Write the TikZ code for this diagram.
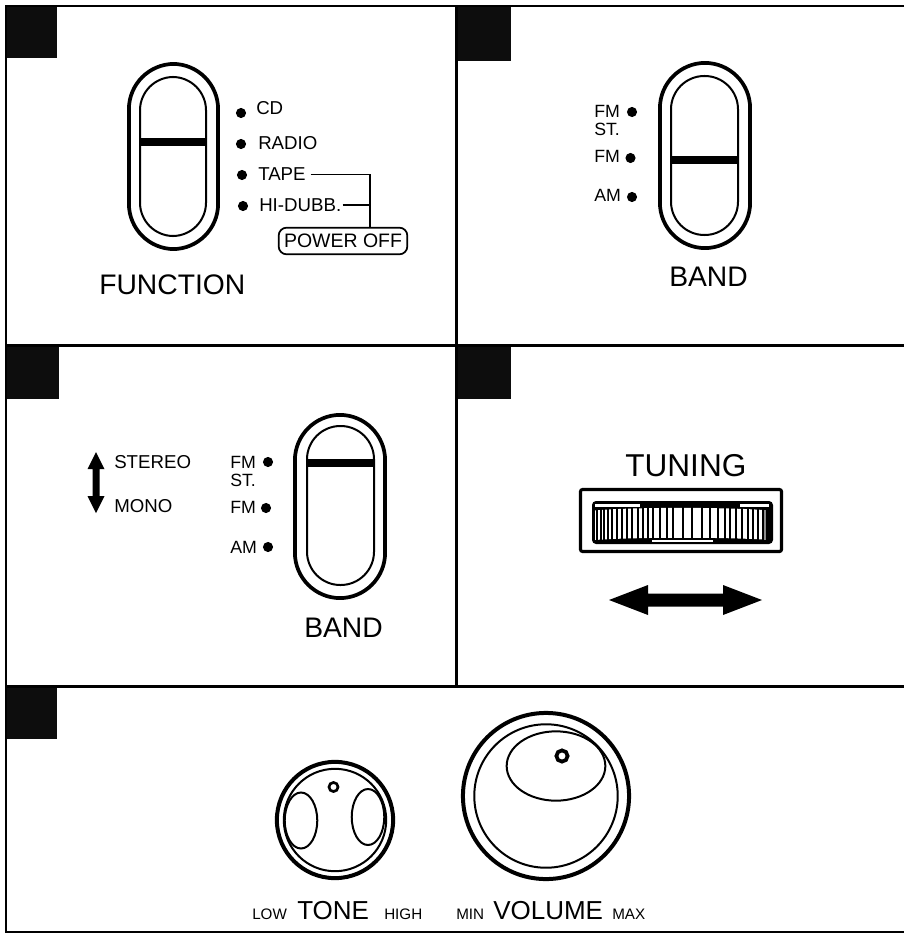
\documentclass[tikz,border=0pt]{standalone}
\usepackage{fontspec}
\setmainfont{Liberation Sans}
\newcommand{\fsz}[1]{\fontsize{#1pt}{#1pt}\selectfont}
\tikzset{
  frameline/.style={line width=2.1pt,draw=black},
  blacktab/.style={fill=black!95},
  pillout/.style={draw=black,line width=2.8pt,rounded corners=34pt},
  pillin/.style={draw=black,line width=1.5pt,rounded corners=25pt},
  sliderbar/.style={draw=black,line width=6pt},
  dotmark/.style={fill=black,draw=none},
  tx/.style={inner sep=0pt,anchor=base west},
  lab/.style={tx,font=\fsz{14}},
  fmlab/.style={tx,font=\fsz{13.3}},
  biglab/.style={tx,font=\fsz{21.2}},
  tuninglab/.style={tx,font=\fsz{23.7}},
  knoblab/.style={tx,font=\fsz{19.5}},
  smalllab/.style={tx,font=\fsz{11.4}},
  thinline/.style={draw=black,line width=1.3pt},
  knobout/.style={draw=black,line width=3pt},
  knobin/.style={draw=black,line width=1.5pt},
}
\begin{document}
\begin{tikzpicture}[x=0.75pt,y=-0.75pt]
\useasboundingbox (0,0) rectangle (904,934);
\fill[white] (0,0) rectangle (904,934);
% tabs
\fill[blacktab] (5,5) rectangle (57,58);
\fill[blacktab] (456,5) rectangle (511,61);
\fill[blacktab] (5,345) rectangle (59,399);
\fill[blacktab] (456,345) rectangle (511,399);
\fill[blacktab] (5,686) rectangle (57,739);
% frame
\draw[frameline] (904,6) -- (6,6) -- (6,932) -- (904,932);
\draw[frameline] (456.5,6) -- (456.5,686.5);
\draw[frameline] (6,345.5) -- (904,345.5);
\draw[frameline] (6,686.5) -- (904,686.5);

% FUNCTION panel
\draw[pillout] (128.9,63.9) rectangle (218.1,249.1);
\draw[pillin] (140,77) rectangle (206,236);
\draw[sliderbar] (139,142) -- (207,142);
\foreach \px/\py in {241/113,241/144,242/175,243/206} \fill[dotmark] (\px,\py) circle[radius=3.8pt];
\node[lab] (cd) at (256,115) {CD};
\node[lab] (radio) at (258,150) {RADIO};
\node[lab] (tape) at (258,181) {TAPE};
\node[lab] (hidubb) at (259,212) {HI-DUBB.};
\node[draw=black,line width=1.3pt,rounded corners=6pt,minimum width=96.5pt,minimum height=20pt,inner sep=0pt,font=\fsz{14.6}] (power) at (343,241) {POWER OFF};
\coordinate (jx) at (370,0);
\draw[thinline] ([xshift=3.5pt]tape.east) -| (power.north -| jx);
\draw[thinline] ([xshift=0.8pt,yshift=0.7pt]hidubb.east) -- ([yshift=0.7pt]hidubb.east -| jx);
\node[biglab] (function) at (99,294) {FUNCTION};

% BAND panel top right
\draw[pillout] (659.9,62.9) rectangle (750.1,248.1);
\draw[pillin] (671,76) rectangle (738,235);
\draw[sliderbar] (670,160) -- (739,160);
\foreach \px/\py in {632/112,630.5/158,632/197} \fill[dotmark] (\px,\py) circle[radius=3.8pt];
\node[fmlab] (fma) at (594,118) {FM};
\node[fmlab] (sta) at (594,136) {ST.};
\node[fmlab] (fmb) at (594,163) {FM};
\node[fmlab] (ama) at (594,202) {AM};
\node[biglab] (banda) at (669,286) {BAND};

% BAND panel middle left
\draw[pillout] (294.9,414.9) rectangle (385.1,598.1);
\draw[pillin] (307,426) rectangle (374,585);
\draw[sliderbar] (306,463) -- (375,463);
\foreach \px/\py in {268/462,266/508,268/547} \fill[dotmark] (\px,\py) circle[radius=3.8pt];
\node[fmlab] (fmc) at (230,468) {FM};
\node[fmlab] (stb) at (230,486) {ST.};
\node[fmlab] (fmd) at (230,513) {FM};
\node[fmlab] (amb) at (230,553) {AM};
\node[biglab] (bandb) at (304,637) {BAND};
\node[lab] (stereo) at (114,468) {STEREO};
\node[lab] (mono) at (114,512) {MONO};
\fill (96,452) -- (104.5,469) -- (99.5,469) -- (99.5,496) -- (104.5,496) -- (96,513) -- (87.5,496) -- (92.5,496) -- (92.5,469) -- (87.5,469) -- cycle;

% TUNING panel
\node[tuninglab] (tuning) at (625,476) {TUNING};
\draw[draw=black,line width=2.3pt,rounded corners=1.5pt] (580.5,489.5) rectangle (781.5,551.5);
\fill[black,rounded corners=3pt] (592,501) rectangle (773,544);
\fill[white] (595,510.5) .. controls (630,507) and (730,507) .. (770,510.5) -- (770,540) .. controls (730,537) and (635,537) .. (595,540) -- cycle;
\begin{scope}
\clip (592,507) rectangle (773,541);
\foreach \v in {80,92,103,115,127,142,157,170,185,205,220,235,250,270,290,310,338,365,395,420,445,465,480,497,515,535,550,565,580}
  \draw[black,line width=1.3pt] ({570+\v/3},504) -- ({570+\v/3},541);
\end{scope}
\fill[black] (763.5,508) rectangle (770.5,541);
\foreach \v in {582,587} \draw[black!45,line width=0.6pt] ({570+\v/3},510) -- ({570+\v/3},540);
\fill[white] (595,504) rectangle (640,506.8);
\fill[white] (740,504) rectangle (769,506.8);
\fill[white] (652,540.4) rectangle (713,541.6);
\fill (609,600) -- (648,585) -- (648,593.5) -- (723,593.5) -- (723,585) -- (762,600) -- (723,615) -- (723,606.5) -- (648,606.5) -- (648,615) -- cycle;

% TONE knob
\draw[knobout] (335,820) circle[radius=43.6pt];
\draw[knobin] (335,820) circle[radius=38.4pt];
\draw[knobin] (301,820.5) ellipse[x radius=12.2pt,y radius=21pt];
\draw[knobin] (368,817) ellipse[x radius=12.2pt,y radius=21pt];
\draw[black,line width=2pt] (333.5,787) circle[radius=3.4pt];
\node[smalllab] (low) at (252,919) {LOW};
\node[knoblab] (tone) at (297,919) {TONE};
\node[smalllab] (high) at (384,919) {HIGH};

% VOLUME knob
\draw[knobout] (546,796) circle[radius=62.3pt];
\draw[knobin] (546,796) circle[radius=53.8pt];
\draw[knobin] (556,766) ellipse[x radius=37pt,y radius=26pt];
\draw[black,line width=2.8pt] (562,756) circle[radius=4.2pt];
\node[smalllab] (min) at (456,919) {MIN};
\node[knoblab] (volume) at (493,919) {VOLUME};
\node[smalllab] (max) at (612,919) {MAX};
\end{tikzpicture}
\end{document}
